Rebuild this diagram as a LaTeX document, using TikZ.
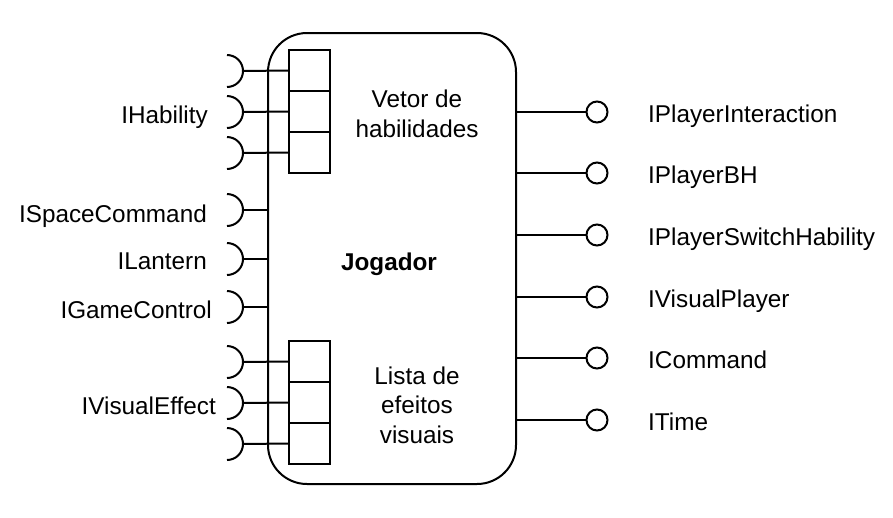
\documentclass[tikz,border=0pt]{standalone}
\usepackage{fontspec}
\setmainfont{Liberation Sans}
\newcommand\lblfont{\fontsize{24.3pt}{29.5pt}\selectfont}
\tikzset{
  lw/.style={line width=2pt},
  lbl/.style={font=\lblfont, inner sep=0pt},
  cell/.style={draw, line width=2pt, minimum width=41pt, minimum height=41pt, inner sep=0pt},
  port/.style={draw, circle, line width=2pt, minimum size=21pt, inner sep=0pt, fill=white},
}
\newcommand\sock[2]{\coordinate (#1) at (243,#2);
  \draw[lw] (#1) ++(-16pt,16pt) arc[start angle=90,end angle=-90,radius=16pt];}
\begin{document}
\begin{tikzpicture}[x=1pt,y=-1pt]
\useasboundingbox (0,0) rectangle (893,517);
% main component
\node[draw, lw, rounded corners=39pt, minimum width=248pt, minimum height=451pt, inner sep=0pt] (main) at (392,258.5) {};
\node[lbl, font=\lblfont\bfseries, anchor=base] (jog) at (389,270) {Jogador};
\node[lbl, align=center] (vet) at (417,114) {Vetor de\\habilidades};
\node[lbl, align=center] (lis) at (417,405) {Lista de\\efeitos\\visuais};
% cells
\node[cell] (c1) at (309.5,70.5) {};
\node[cell] (c2) at (309.5,111.5) {};
\node[cell] (c3) at (309.5,152.5) {};
\node[cell] (c4) at (309.5,361.5) {};
\node[cell] (c5) at (309.5,402.5) {};
\node[cell] (c6) at (309.5,443.5) {};
% sockets
\sock{s1}{71}\sock{s2}{112}\sock{s3}{153}
\sock{s4}{210}\sock{s5}{259}\sock{s6}{307}
\sock{s7}{362}\sock{s8}{403}\sock{s9}{444}
\draw[lw] (s1) -- (c1.west);
\draw[lw] (s2) -- (c2.west);
\draw[lw] (s3) -- (c3.west);
\draw[lw] (s4) -- (s4 -| main.west);
\draw[lw] (s5) -- (s5 -| main.west);
\draw[lw] (s6) -- (s6 -| main.west);
\draw[lw] (s7) -- (c4.west);
\draw[lw] (s8) -- (c5.west);
\draw[lw] (s9) -- (c6.west);
% left labels
\node[lbl, anchor=base east] (l1) at (208,123) {IHability};
\node[lbl, anchor=base east] (l2) at (207,222) {ISpaceCommand};
\node[lbl, anchor=base east] (l3) at (207,269) {ILantern};
\node[lbl, anchor=base east] (l4) at (212,318) {IGameControl};
\node[lbl, anchor=base east] (l5) at (216,414) {IVisualEffect};
% provided ports
\foreach \n/\y/\t in {1/112/IPlayerInteraction,2/173/IPlayerBH,3/235/IPlayerSwitchHability,4/297/IVisualPlayer,5/358/ICommand,6/420/ITime}{
  \node[port] (p\n) at (597,\y) {};
  \draw[lw] (main.east |- p\n) -- (p\n.west);
  \node[lbl, anchor=base west] (r\n) at (648,\y+10) {\t};
}
\end{tikzpicture}
\end{document}
